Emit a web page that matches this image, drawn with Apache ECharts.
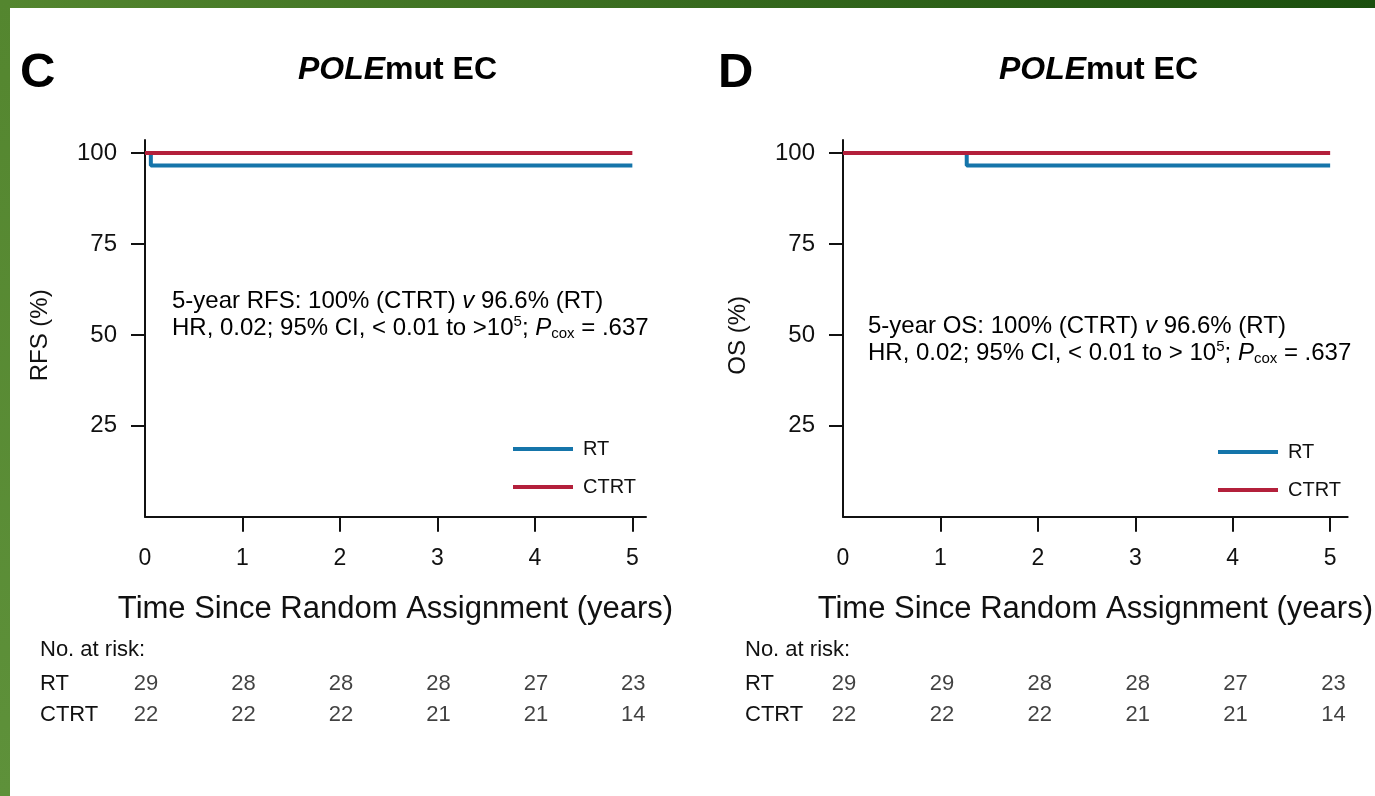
<!DOCTYPE html>
<html>
<head>
<meta charset="utf-8">
<title>POLEmut EC – RFS and OS</title>
<script src="https://cdn.jsdelivr.net/npm/echarts@6/dist/echarts.min.js"></script>
<style>
  html, body { margin: 0; padding: 0; background: #fff; }
  #chart { width: 1375px; height: 796px; }
</style>
</head>
<body>
<div id="chart"></div>
<script>
// Kaplan–Meier step data: [years, % event-free]
const rfsRT   = [[0, 100], [0.06, 96.6], [5, 96.6]];
const rfsCTRT = [[0, 100], [5, 100]];
const osRT    = [[0, 100], [1.27, 96.6], [5, 96.6]];
const osCTRT  = [[0, 100], [5, 100]];

// Number at risk at each whole year
const riskYears  = [0, 1, 2, 3, 4, 5];
const riskRT_C   = [29, 28, 28, 28, 27, 23];
const riskCTRT_C = [22, 22, 22, 21, 21, 14];
const riskRT_D   = [29, 29, 28, 28, 27, 23];
const riskCTRT_D = [22, 22, 22, 21, 21, 14];

// Axis tick values
const xTicks = [0, 1, 2, 3, 4, 5];
const yTicks = [25, 50, 75, 100];

const groups = ['RT', 'CTRT'];
const RED = '#b3203b';
const BLUE = '#1575aa';
const SANS = '"Liberation Sans", Arial, Helvetica, sans-serif';
const NARROW = '"Liberation Sans Narrow", "Liberation Sans", Arial, sans-serif';

const chart = echarts.init(document.getElementById('chart'), null, { renderer: 'canvas' });

// Panel geometry
const panels = [
  { left: 145, width: 501, xMax: 5.14, yName: 'RFS (%)', rt: rfsRT, ctrt: rfsCTRT,
    riskRT: riskRT_C, riskCTRT: riskCTRT_C, letter: 'C' },
  { left: 843, width: 507, xMax: 5.18, yName: 'OS (%)', rt: osRT, ctrt: osCTRT,
    riskRT: riskRT_D, riskCTRT: riskCTRT_D, letter: 'D' }
];

const grids = [], xAxes = [], yAxes = [], series = [], titles = [], legends = [];

panels.forEach((p, i) => {
  // survival plot grid
  grids.push({ left: p.left, top: 140, width: p.width, height: 376.7, containLabel: false });
  // risk table grid
  grids.push({ left: p.left + 1, top: 668, width: p.width, height: 62, containLabel: false });

  const gPlot = i * 2, gRisk = i * 2 + 1;

  xAxes.push({
    type: 'value', gridIndex: gPlot, min: 0, max: p.xMax,
    name: 'Time Since Random Assignment (years)',
    nameLocation: 'middle', nameGap: 77,
    nameTextStyle: { fontFamily: SANS, fontSize: 31, color: '#111' },
    axisLine: { show: true, onZero: false, lineStyle: { color: '#111', width: 2 } },
    axisTick: { show: true, customValues: xTicks.slice(1), length: 15, lineStyle: { color: '#111', width: 2 } },
    axisLabel: { customValues: xTicks, margin: 30, fontFamily: SANS, fontSize: 23, color: '#111' },
    splitLine: { show: false }
  });
  xAxes.push({
    type: 'value', gridIndex: gRisk, min: 0, max: p.xMax, show: false
  });

  yAxes.push({
    type: 'value', gridIndex: gPlot, min: 0, max: 103.6,
    name: p.yName, nameLocation: 'middle', nameGap: 93,
    nameTextStyle: { fontFamily: SANS, fontSize: 24, color: '#111', padding: [0, 14, 0, 0] },
    axisLine: { show: true, onZero: false, lineStyle: { color: '#111', width: 2 } },
    axisTick: { show: true, customValues: yTicks, length: 14, lineStyle: { color: '#111', width: 2 } },
    axisLabel: { customValues: yTicks, margin: 28, fontFamily: SANS, fontSize: 24, color: '#111' },
    splitLine: { show: false }
  });
  yAxes.push({
    type: 'category', gridIndex: gRisk, data: groups, inverse: true,
    axisLine: { show: false }, axisTick: { show: false },
    axisLabel: { align: 'left', margin: i === 0 ? 106 : 99, fontFamily: NARROW, fontSize: 22, color: '#111' }
  });

  series.push({
    name: 'RT', type: 'line', xAxisIndex: gPlot, yAxisIndex: gPlot, step: 'end',
    data: p.rt, showSymbol: false, symbol: 'none', color: BLUE,
    lineStyle: { width: 4, color: BLUE }, z: 3
  });
  series.push({
    name: 'CTRT', type: 'line', xAxisIndex: gPlot, yAxisIndex: gPlot, step: 'end',
    data: p.ctrt, showSymbol: false, symbol: 'none', color: RED,
    lineStyle: { width: 4, color: RED }, z: 4
  });

  // risk table rows
  [['RT', p.riskRT], ['CTRT', p.riskCTRT]].forEach(([g, vals]) => {
    series.push({
      type: 'scatter', xAxisIndex: gRisk, yAxisIndex: gRisk, symbolSize: 1,
      itemStyle: { color: 'rgba(0,0,0,0)' }, silent: true,
      data: riskYears.map((t, k) => [t, g, vals[k]]),
      label: {
        show: true, position: 'inside', formatter: d => String(d.value[2]),
        fontFamily: NARROW, fontSize: 22, color: '#111'
      }
    });
  });

  const cx = p.left + p.width / 2 + 2;
  titles.push({
    text: p.letter, left: p.left - 125, top: 49, padding: 0,
    textStyle: { fontFamily: SANS, fontSize: 49, fontWeight: 'bold', color: '#000' }
  });
  titles.push({
    text: '{i|POLE}{b|mut EC}', left: cx, top: 54, padding: 0, textAlign: 'center',
    textStyle: {
      rich: {
        i: { fontFamily: SANS, fontSize: 32, fontWeight: 'bold', fontStyle: 'italic', color: '#000' },
        b: { fontFamily: SANS, fontSize: 32, fontWeight: 'bold', color: '#000' }
      }
    }
  });

  legends.push({
    data: groups, orient: 'vertical', left: p.left + (i === 0 ? 368 : 375), top: i === 0 ? 439 : 442,
    icon: 'rect', itemWidth: 60, itemHeight: 4, itemGap: 18, padding: 0,
    textStyle: { fontFamily: SANS, fontSize: 20, color: '#111', padding: [0, 0, 0, 5] },
    selectedMode: false
  });
});

const annoRich = {
  n: { fontFamily: SANS, fontSize: 24, color: '#111', lineHeight: 27 },
  it: { fontFamily: SANS, fontSize: 24, fontStyle: 'italic', color: '#111', lineHeight: 27 },
  sup: { fontFamily: SANS, fontSize: 15, color: '#111', lineHeight: 27, verticalAlign: 'top' },
  sub: { fontFamily: SANS, fontSize: 15, color: '#111', lineHeight: 27, verticalAlign: 'bottom' }
};

function annotation(x, y, endpoint, gtSpace) {
  return {
    type: 'text', left: x, top: y, silent: true,
    style: {
      text: '{n|5-year ' + endpoint + ': 100% (CTRT) }{it|v}{n| 96.6% (RT)}\n' +
            '{n|HR, 0.02; 95% CI, < 0.01 to >' + gtSpace + '10}{sup|5}{n|; }{it|P}{sub|cox}{n| = .637}',
      rich: annoRich
    }
  };
}

function riskHeader(x) {
  return {
    type: 'text', left: x, top: 639, silent: true,
    style: { text: 'No. at risk:', fontFamily: NARROW, fontSize: 22, fill: '#111' }
  };
}

chart.setOption({
  backgroundColor: '#ffffff',
  animation: false,
  title: titles,
  legend: legends,
  grid: grids,
  xAxis: xAxes,
  yAxis: yAxes,
  series: series,
  graphic: [
    {
      type: 'rect', left: 0, top: 0, silent: true,
      shape: { width: 1375, height: 8 },
      style: { fill: new echarts.graphic.LinearGradient(0, 0, 1, 0, [
        { offset: 0, color: '#54862f' }, { offset: 1, color: '#1b4f0e' }]) }
    },
    {
      type: 'rect', left: 0, top: 0, silent: true,
      shape: { width: 10, height: 796 },
      style: { fill: new echarts.graphic.LinearGradient(0, 0, 0, 1, [
        { offset: 0, color: '#54862f' }, { offset: 1, color: '#5e913a' }]) }
    },
    annotation(172, 289, 'RFS', ''),
    annotation(868, 314, 'OS', ' '),
    riskHeader(40),
    riskHeader(745)
  ]
});
</script>
</body>
</html>
